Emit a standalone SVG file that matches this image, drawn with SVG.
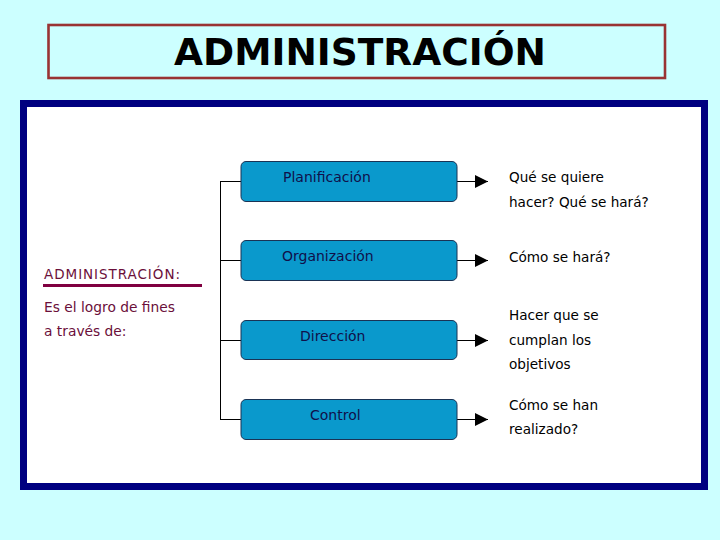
<svg xmlns="http://www.w3.org/2000/svg" width="720" height="540" viewBox="0 0 720 540">
  <defs>
    <style>
      .box { fill: #0A99CC; stroke: #1A3355; stroke-width: 1; }
      .btxt { font-family: "DejaVu Sans", Verdana, sans-serif; font-size: 14px; fill: #10104A; }
      .rtxt { font-family: "DejaVu Sans", Verdana, sans-serif; font-size: 13.6px; fill: #000000; }
      .ltxt { font-family: "DejaVu Sans", Verdana, sans-serif; font-size: 13.8px; fill: #6B0F3A; }
      .conn { stroke: #000000; stroke-width: 1; fill: none; }
    </style>
    <marker id="arrow" markerWidth="14" markerHeight="13" refX="13" refY="6.5" orient="auto" markerUnits="userSpaceOnUse">
      <path d="M0,0 L13,6.5 L0,13 Z" fill="#000000"/>
    </marker>
  </defs>

  <rect x="0" y="0" width="720" height="540" fill="#CCFFFF"/>

  <g id="title">
    <rect x="48.5" y="25" width="616.5" height="53" fill="#CCFFFF" stroke="#993333" stroke-width="2.6"/>
    <text x="360" y="65" text-anchor="middle" font-family="'DejaVu Sans', Verdana, sans-serif" font-weight="bold" font-size="37.5" fill="#000000">ADMINISTRACIÓN</text>
  </g>

  <g id="frame">
    <rect x="23.5" y="103.5" width="681" height="383" fill="#FFFFFF" stroke="#000080" stroke-width="7"/>
  </g>

  <g id="definition">
    <text x="44" y="279" font-family="'DejaVu Sans', Verdana, sans-serif" font-size="13.5" fill="#6B0F3A" textLength="136" lengthAdjust="spacing">ADMINISTRACIÓN:</text>
    <line x1="43" y1="285.5" x2="202" y2="285.5" stroke="#800040" stroke-width="3"/>
    <text class="ltxt" x="44" y="312">Es el logro de fines</text>
    <text class="ltxt" x="44" y="336">a través de:</text>
  </g>

  <g id="connectors">
    <line class="conn" x1="220.5" y1="181" x2="220.5" y2="419.5"/>
    <line class="conn" x1="220" y1="181.5" x2="241" y2="181.5"/>
    <line class="conn" x1="220" y1="260.5" x2="241" y2="260.5"/>
    <line class="conn" x1="220" y1="340.5" x2="241" y2="340.5"/>
    <line class="conn" x1="220" y1="419.5" x2="241" y2="419.5"/>
    <line class="conn" x1="457" y1="181.5" x2="488" y2="181.5" marker-end="url(#arrow)"/>
    <line class="conn" x1="457" y1="260.5" x2="488" y2="260.5" marker-end="url(#arrow)"/>
    <line class="conn" x1="457" y1="340.5" x2="488" y2="340.5" marker-end="url(#arrow)"/>
    <line class="conn" x1="457" y1="419.5" x2="488" y2="419.5" marker-end="url(#arrow)"/>
  </g>

  <g id="planificacion">
    <rect class="box" x="241" y="161.5" width="216" height="40" rx="5"/>
    <text class="btxt" x="283" y="182">Planificación</text>
  </g>
  <g id="organizacion">
    <rect class="box" x="241" y="240.5" width="216" height="40" rx="5"/>
    <text class="btxt" x="282" y="261">Organización</text>
  </g>
  <g id="direccion">
    <rect class="box" x="241" y="320.5" width="216" height="39" rx="5"/>
    <text class="btxt" x="300" y="341">Dirección</text>
  </g>
  <g id="control">
    <rect class="box" x="241" y="399.5" width="216" height="40" rx="5"/>
    <text class="btxt" x="310" y="420">Control</text>
  </g>

  <g id="desc-planificacion">
    <text class="rtxt" x="509" y="182">Qué se quiere</text>
    <text class="rtxt" x="509" y="207">hacer? Qué se hará?</text>
  </g>
  <g id="desc-organizacion">
    <text class="rtxt" x="509" y="262">Cómo se hará?</text>
  </g>
  <g id="desc-direccion">
    <text class="rtxt" x="509" y="320">Hacer que se</text>
    <text class="rtxt" x="509" y="345">cumplan los</text>
    <text class="rtxt" x="509" y="369">objetivos</text>
  </g>
  <g id="desc-control">
    <text class="rtxt" x="509" y="410">Cómo se han</text>
    <text class="rtxt" x="509" y="434">realizado?</text>
  </g>
</svg>
